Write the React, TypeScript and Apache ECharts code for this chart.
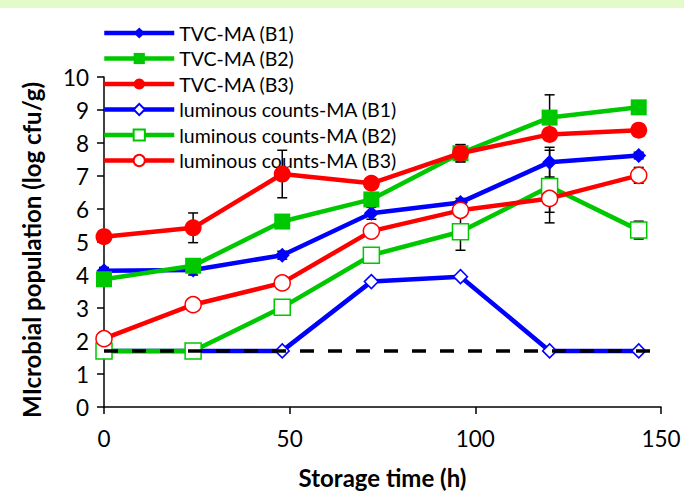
import React, { useEffect, useRef } from "react";
import * as echarts from "echarts";

const times = [0, 24, 48, 72, 96, 120, 144];
const tvcB1 = [4.13, 4.15, 4.6, 5.87, 6.2, 7.42, 7.62];
const tvcB2 = [3.87, 4.28, 5.62, 6.29, 7.69, 8.77, 9.08];
const tvcB3 = [5.16, 5.43, 7.06, 6.78, 7.69, 8.26, 8.39];
const lumB1 = [1.7, 1.7, 1.7, 3.8, 3.95, 1.7, 1.7];
const lumB2 = [1.7, 1.7, 3.02, 4.6, 5.31, 6.68, 5.36];
const lumB3 = [2.07, 3.1, 3.76, 5.33, 5.96, 6.32, 7.02];

const errB1 = [0.1, 0.15, 0.12, 0.18, 0.12, 0.45, 0.1];
const errB2 = [0.1, 0.12, 0.12, 0.15, 0.26, 0.69, 0.1];
const errB3 = [0.1, 0.45, 0.72, 0.1, 0.26, 0.15, 0.1];
const errLB1 = [0, 0, 0, 0, 0, 0, 0];
const errLB2 = [0, 0, 0, 0.1, 0.56, 1.1, 0.27];
const errLB3 = [0.1, 0.1, 0.1, 0.1, 0.15, 0.42, 0.24];

const detectionLimit = 1.7;
const xTicks = [0, 150];

const names = [
  "TVC-MA (B1)",
  "TVC-MA (B2)",
  "TVC-MA (B3)",
  "luminous counts-MA (B1)",
  "luminous counts-MA (B2)",
  "luminous counts-MA (B3)",
];
const xTitle = "Storage time (h)";
const yTitle = "MIcrobial population (log cfu/g)";

const BLUE = "#0000ff";
const GREEN = "#00c800";
const RED = "#ff0000";
const FONT = "Lato";

export default function App() {
  const ref = useRef<HTMLDivElement>(null);
  useEffect(() => {
    const chart = echarts.init(ref.current!, null, { renderer: "svg" });
    const values = [tvcB1, tvcB2, tvcB3, lumB1, lumB2, lumB3];
    const errs = [errB1, errB2, errB3, errLB1, errLB2, errLB3];
    const colors = [BLUE, GREEN, RED, BLUE, GREEN, RED];
    const symbols = ["diamond", "rect", "circle", "diamond", "rect", "circle"];
    const sizes = [15, 16, 17, 14, 16, 16];

    const errData: number[][] = [];
    values.forEach((vals, s) => {
      vals.forEach((v, i) => {
        const e = errs[s][i];
        if (e > 0) errData.push([times[i], v - e, v + e]);
      });
    });

    const lineSeries = values.map((vals, s) => {
      const hollow = s >= 3;
      return {
        name: names[s],
        type: "line",
        data: vals.map((v, i) => [times[i], v]),
        symbol: symbols[s],
        symbolSize: sizes[s],
        z: 3 + s,
        lineStyle: { color: colors[s], width: 4.5 },
        itemStyle: hollow
          ? { color: "#ffffff", borderColor: colors[s], borderWidth: 1.5 }
          : { color: colors[s], borderColor: colors[s], borderWidth: 0 },
        emphasis: { disabled: true },
      };
    });

    chart.setOption({
      animation: false,
      backgroundColor: "#ffffff",
      textStyle: { fontFamily: FONT },
      graphic: [
        {
          type: "rect",
          left: 0,
          top: 0,
          z: -10,
          shape: { width: 684, height: 8 },
          style: { fill: "#e2fbc9" },
        },
        {
          type: "text",
          x: 31,
          y: 250,
          rotation: Math.PI / 2,
          style: {
            text: yTitle,
            fontSize: 24,
            fontWeight: "bold",
            fontFamily: FONT,
            fill: "#000",
            align: "center",
            verticalAlign: "middle",
          },
        },
      ],
      grid: { left: 104, right: 23, top: 77, bottom: 87 },
      legend: {
        orient: "vertical",
        left: 97,
        top: 18,
        itemWidth: 70,
        itemHeight: 14,
        itemGap: 5.5,
        data: names,
        lineStyle: { width: 4.5 },
        textStyle: { fontSize: 19.5, color: "#000", fontFamily: FONT },
        selectedMode: false,
      },
      xAxis: {
        type: "value",
        min: xTicks[0],
        max: xTicks[1],
        interval: 50,
        name: xTitle,
        nameLocation: "middle",
        nameGap: 58,
        nameTextStyle: { fontSize: 24, fontWeight: "bold", color: "#000", fontFamily: FONT },
        axisLine: { lineStyle: { color: "#000", width: 1.5 } },
        axisTick: { length: 7, lineStyle: { color: "#000", width: 1.5 } },
        axisLabel: { fontSize: 22.5, color: "#000", margin: 20, fontFamily: FONT },
        splitLine: { show: false },
      },
      yAxis: {
        type: "value",
        min: 0,
        max: 10,
        interval: 1,
        axisLine: { show: true, lineStyle: { color: "#000", width: 1.5 } },
        axisTick: { show: true, length: 7, lineStyle: { color: "#000", width: 1.5 } },
        axisLabel: { fontSize: 22.5, color: "#000", margin: 15, fontFamily: FONT },
        splitLine: { show: false },
      },
      series: [
        {
          type: "custom",
          z: 2,
          data: errData,
          encode: { x: 0, y: [1, 2] },
          renderItem: (params: any, api: any) => {
            const x = api.value(0);
            const lo = api.coord([x, api.value(1)]);
            const hi = api.coord([x, api.value(2)]);
            const w = 5;
            const style = { stroke: "#000", lineWidth: 1.5 };
            return {
              type: "group",
              children: [
                { type: "line", shape: { x1: lo[0], y1: lo[1], x2: hi[0], y2: hi[1] }, style },
                { type: "line", shape: { x1: lo[0] - w, y1: lo[1], x2: lo[0] + w, y2: lo[1] }, style },
                { type: "line", shape: { x1: hi[0] - w, y1: hi[1], x2: hi[0] + w, y2: hi[1] }, style },
              ],
            };
          },
        },
        ...lineSeries,
        {
          name: "limit",
          type: "line",
          z: 20,
          symbol: "none",
          data: [
            [xTicks[0], detectionLimit],
            [xTicks[1], detectionLimit],
          ],
          lineStyle: { color: "#000", width: 3.5, type: [14, 14] },
          emphasis: { disabled: true },
        },
      ],
    });
    return () => chart.dispose();
  }, []);
  return (
    <div
      ref={ref}
      style={{ position: "fixed", left: 0, top: 0, width: 684, height: 494, background: "#fff" }}
    />
  );
}
